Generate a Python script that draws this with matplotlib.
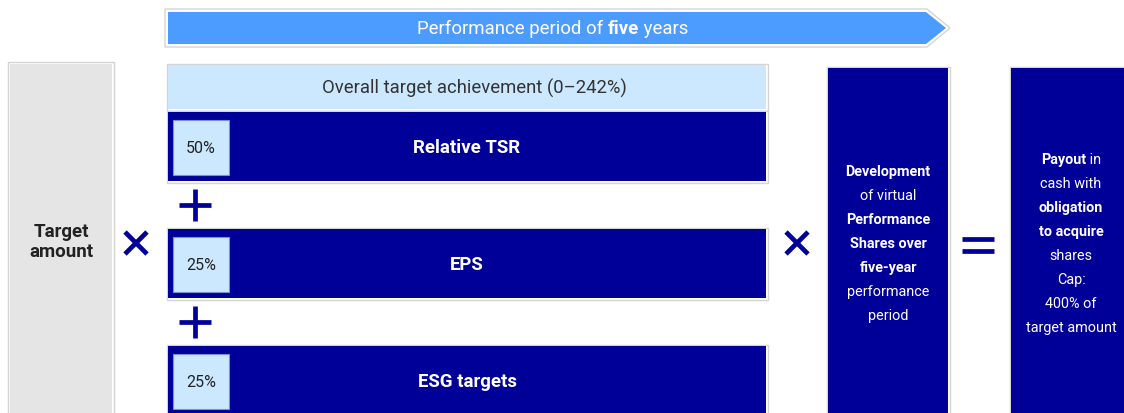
"""Performance Share Plan schematic: target amount x performance x share development = payout."""

import matplotlib

matplotlib.use("Agg")
import matplotlib.pyplot as plt
from matplotlib.patches import Polygon, Rectangle

# --- content -------------------------------------------------------------
PERIOD_LABEL = ["Performance period of ", "five", " years"]
OVERALL_LABEL = "Overall target achievement (0\u2013242%)"
COMPONENTS = ["Relative TSR", "EPS", "ESG targets"]
WEIGHTS = [50, 25, 25]
TARGET_LABEL = "Target\namount"
DEV_LINES = [("Development", True), ("of virtual", False), ("Performance", True),
             ("Shares over", True), ("five-year", True), ("performance", False),
             ("period", False)]
PAYOUT_LINES = [[("Payout", True), (" in", False)], [("cash with", False)],
                [("obligation", True)], [("to acquire", True)], [("shares", False)],
                [("Cap:", False)], [("400% of", False)], [("target amount", False)]]

NAVY = "#000099"
ARROW_BLUE = "#4C9BFF"
LIGHT_BLUE = "#CCE8FF"
GREY = "#E5E5E5"
BORDER = "#D4D4D4"
FONT = "Roboto"

W, H = 1124, 414
fig = plt.figure(figsize=(W / 100, H / 100), dpi=100)
ax = fig.add_axes([0, 0, 1, 1])
ax.set_xlim(0, W)
ax.set_ylim(H, 0)
ax.axis("off")
fig.canvas.draw()
r = fig.canvas.get_renderer()


def box(x0, y0, x1, y1, color, pad=2):
    """Filled box with a thin grey frame a couple of pixels outside."""
    ax.add_patch(Rectangle((x0 - pad, y0 - pad), x1 - x0 + 2 * pad, y1 - y0 + 2 * pad,
                           facecolor="white", edgecolor=BORDER, lw=1))
    ax.add_patch(Rectangle((x0, y0), x1 - x0, y1 - y0, facecolor=color, lw=0))


def sign(x, y, kind):
    kw = dict(color=NAVY, lw=3.4, solid_capstyle="butt")
    if kind == "+":
        ax.plot([x - 16, x + 16], [y, y], **kw)
        ax.plot([x, x], [y - 16, y + 16], **kw)
    elif kind == "x":
        ax.plot([x - 11, x + 11], [y - 11, y + 11], **kw)
        ax.plot([x - 11, x + 11], [y + 11, y - 11], **kw)
    else:
        ax.plot([x - 16, x + 16], [y - 6, y - 6], **kw)
        ax.plot([x - 16, x + 16], [y + 6, y + 6], **kw)


def mixed_line(xc, y, parts, size):
    """Centre a line made of (text, bold) runs around xc."""
    inv = ax.transData.inverted()
    texts, widths = [], []
    for s, bold in parts:
        t = ax.text(0, y, s, ha="left", va="center", fontsize=size, family=FONT,
                    weight="bold" if bold else "normal", color="white")
        bb = t.get_window_extent(r)
        widths.append(inv.transform((bb.x1, 0))[0] - inv.transform((bb.x0, 0))[0])
        texts.append(t)
    x = xc - sum(widths) / 2
    for t, w in zip(texts, widths):
        t.set_x(x)
        x += w


# arrow for the performance period
ax.add_patch(Polygon([(165, 10), (927, 10), (950, 29), (927, 48), (165, 48)],
                     closed=True, facecolor="white", edgecolor=BORDER, lw=1))
ax.add_patch(Polygon([(168, 13), (926, 13), (946, 29), (926, 45), (168, 45)],
                     closed=True, facecolor=ARROW_BLUE, lw=0))
mixed_line(553, 29, [(PERIOD_LABEL[0], False), (PERIOD_LABEL[1], True),
                     (PERIOD_LABEL[2], False)], 13.4)

# target amount
box(10, 65, 112, 420, GREY)
ax.text(61, 242, TARGET_LABEL, ha="center", va="center", fontsize=13.5, family=FONT,
        weight="bold", color="#222222", linespacing=1.2)
sign(136, 244, "x")

# target achievement block
box(168, 66, 766, 110, LIGHT_BLUE, pad=1.5)
ax.text(474, 88, OVERALL_LABEL, ha="center", va="center", fontsize=13.3, family=FONT,
        color="#333333")

tops = [113, 230, 347]
for top, name, w in zip(tops, COMPONENTS, WEIGHTS):
    box(168, top, 766, top + 69, NAVY, pad=1.5)
    ax.add_patch(Rectangle((173, top + 8), 56, 55, facecolor=LIGHT_BLUE,
                           edgecolor="#7A8FD6", lw=0.8))
    ax.text(201, top + 36, f"{w}%", ha="center", va="center", fontsize=11.5,
            family=FONT, color="#222222")
    ax.text(467, top + 35, name, ha="center", va="center", fontsize=13.4,
            family=FONT, weight="bold", color="white")
for top in tops[1:]:
    sign(195, top - 24, "+")

sign(797, 244, "x")

# development of virtual performance shares
box(828, 69, 948, 420, NAVY, pad=1.5)
for i, (line, bold) in enumerate(DEV_LINES):
    ax.text(888, 172 + 24 * i, line, ha="center", va="center", fontsize=10.4,
            family=FONT, weight="bold" if bold else "normal", color="white")

sign(978, 246, "=")

# payout
box(1011, 69, 1130, 420, NAVY, pad=1.5)
for i, parts in enumerate(PAYOUT_LINES):
    mixed_line(1071, 160 + 24 * i, parts, 10.4)

fig.savefig("out.png", dpi=100)
